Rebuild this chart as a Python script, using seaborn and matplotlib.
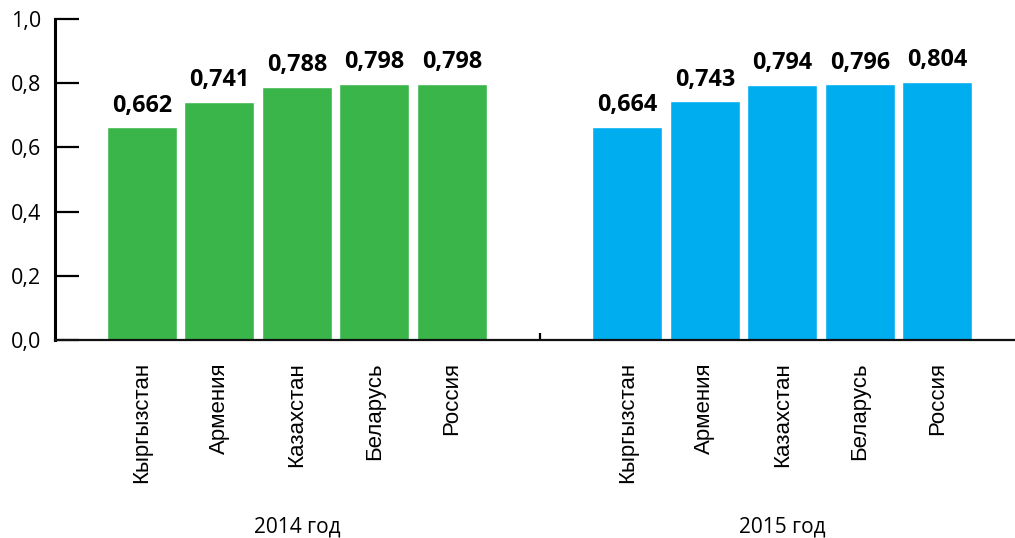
import matplotlib
matplotlib.use("Agg")
import matplotlib.pyplot as plt
from matplotlib.ticker import FuncFormatter
import pandas as pd
import seaborn as sns

countries = ["Кыргызстан", "Армения", "Казахстан", "Беларусь", "Россия"]
years = ["2014 год", "2015 год"]
values_2014 = [0.662, 0.741, 0.788, 0.798, 0.798]
values_2015 = [0.664, 0.743, 0.794, 0.796, 0.804]
colors = ["#3AB54A", "#00AEEF"]

# numeric slot positions: two groups of five bars separated by a wider gap
group_gap = 2.26
rows = []
for g, (year, vals) in enumerate(zip(years, [values_2014, values_2015])):
    offset = g * (len(countries) - 1 + group_gap)
    for i, (c, v) in enumerate(zip(countries, vals)):
        rows.append({"pos": offset + i, "country": c, "year": year, "value": v})
df = pd.DataFrame(rows)

sns.set_style("white")
plt.rcParams["font.family"] = ["Open Sans", "DejaVu Sans"]
plt.rcParams["text.color"] = "black"

fig = plt.figure(figsize=(10.15, 5.38), dpi=100)
ax = fig.add_axes([55 / 1015, 198 / 538, 1 - 55 / 1015, 321 / 538])

sns.barplot(data=df, x="pos", y="value", hue="year", palette=colors,
            native_scale=True, dodge=False, width=0.903, saturation=1,
            legend=False, ax=ax)

ax.set_ylim(0, 1.0)
ax.set_xlim(-1.12, 11.26)
ax.set_yticks([0, 0.2, 0.4, 0.6, 0.8, 1.0])
ax.yaxis.set_major_formatter(FuncFormatter(lambda v, _: f"{v:.1f}".replace(".", ",")))
ax.tick_params(axis="y", direction="in", length=17, width=1.6, pad=10,
               labelsize=15.5, colors="black", left=True)

# country names under each bar
ax.set_xticks(df["pos"])
ax.set_xticklabels(df["country"], rotation=90, fontsize=16,
                   family=["Liberation Sans", "DejaVu Sans"])
ax.tick_params(axis="x", which="major", length=0, pad=16, colors="black")

# small separator tick between the two years
mid = (len(countries) - 1 + (len(countries) - 1 + group_gap)) / 2
ax.set_xticks([mid], minor=True)
ax.tick_params(axis="x", which="minor", direction="in", length=5, width=1.6,
               color="black", bottom=True)

for side in ["top", "right"]:
    ax.spines[side].set_visible(False)
ax.spines["left"].set_linewidth(2.2)
ax.spines["bottom"].set_linewidth(1.6)
ax.spines["left"].set_color("black")
ax.spines["bottom"].set_color("#111111")
ax.set_xlabel("")
ax.set_ylabel("")

# value labels above bars
for cont, year in zip(ax.containers, years):
    vals = df.loc[df["year"] == year, "value"]
    ax.bar_label(cont, labels=[f"{v:.3f}".replace(".", ",") for v in vals],
                 padding=7, fontsize=16.8, fontweight="bold", color="black")

# year captions below each group
trans = matplotlib.transforms.blended_transform_factory(ax.transData, ax.transAxes)
for year in years:
    sub = df[df["year"] == year]
    center = (sub["pos"].min() + sub["pos"].max()) / 2
    ax.text(center, -0.583, year, transform=trans, ha="center", va="center",
            fontsize=15, color="black")

fig.savefig("out.png", dpi=100)
